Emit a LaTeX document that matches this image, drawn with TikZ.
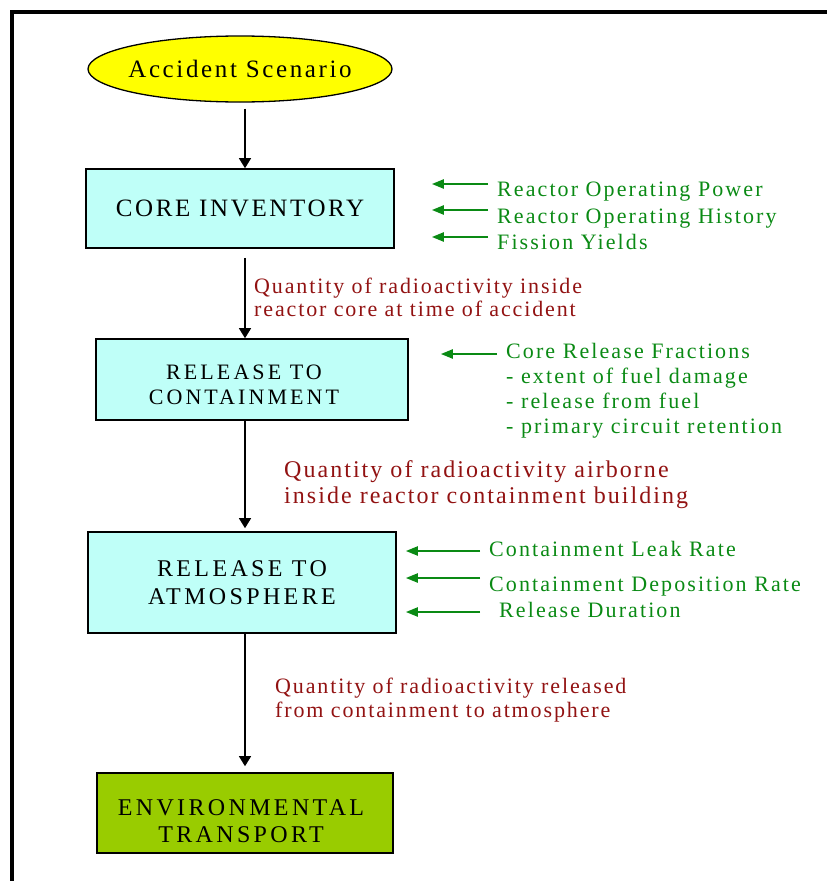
\documentclass[tikz,border=0pt]{standalone}
\usepackage{fontspec}
\setmainfont{Liberation Serif}
\newfontfamily\stagefont[LetterSpace=14]{Liberation Serif}
\newfontfamily\headfont[LetterSpace=10.5]{Liberation Serif}
\newfontfamily\qtyfont[LetterSpace=8.5]{Liberation Serif}
\newfontfamily\inputfont[LetterSpace=9.5]{Liberation Serif}
\usetikzlibrary{arrows.meta,shapes.geometric}
\definecolor{scenario}{HTML}{FFFF00}
\definecolor{stagefill}{HTML}{BFFFF8}
\definecolor{envfill}{HTML}{99CC00}
\definecolor{qtyred}{HTML}{921212}
\definecolor{inputgreen}{HTML}{0A8A14}

\begin{document}
\begin{tikzpicture}[
  x=1pt, y=-1pt,
  frame/.style={line width=3.5pt,line join=miter},
  start/.style={ellipse,draw,line width=1.3pt,fill=scenario,minimum width=304pt,minimum height=66pt,inner xsep=-8pt,inner ysep=0pt,
    font=\headfont\fontsize{25}{28}\selectfont},
  stage/.style={draw,line width=1.6pt,fill=stagefill,align=center,inner sep=0pt,
    font=\stagefont\fontsize{24}{28}\selectfont},
  qty/.style={text=qtyred,align=left,anchor=north west,inner sep=0pt,font=\qtyfont\fontsize{22}{23}\selectfont},
  input/.style={text=inputgreen,anchor=base west,inner sep=0pt,font=\inputfont\fontsize{22}{25}\selectfont},
  flow/.style={-{Triangle[width=12pt,length=10pt]},line width=1.3pt},
  feed/.style={-{Triangle[width=9pt,length=12pt]},draw=inputgreen,line width=2.2pt},
]
\useasboundingbox (0,0) rectangle (827,881);
\draw[frame] (12,895) -- (12,12) -- (840,12);

\coordinate (spine) at (245,0);
\node[start] (scenario) at (240,69) {Accident Scenario};
\node[stage,minimum width=308pt,minimum height=79pt,font=\headfont\fontsize{25}{28}\selectfont] (core) at (240,208.5) {CORE INVENTORY};
\node[stage,minimum width=312pt,minimum height=81pt,font=\stagefont\fontsize{22}{25}\selectfont] (contain) at (252,379.5) {\rule{0pt}{26pt}RELEASE TO\hspace*{16pt}\\CONTAINMENT\hspace*{16pt}};
\node[stage,minimum width=308pt,minimum height=101pt] (atmos) at (242,582.5) {RELEASE TO\\ATMOSPHERE};
\node[stage,fill=envfill,minimum width=296pt,minimum height=80pt,font=\stagefont\fontsize{24}{27}\selectfont] (transport) at (245,813) {\rule{0pt}{32pt}ENVIRONMENTAL\hspace*{8pt}\\TRANSPORT\hspace*{8pt}};

\foreach \a/\b/\s/\e in {scenario/core/6pt/0pt,core/contain/9pt/0pt,contain/atmos/0pt/3pt,atmos/transport/0pt/6pt}
  \draw[flow,shorten <=\s,shorten >=\e] (\a.south -| spine) -- (\b.north -| spine);

% quantities passed down the chain
\node[qty] (inside) at (254,278) {Quantity of radioactivity inside\\reactor core at time of accident};
\node[qty,font=\qtyfont\fontsize{24}{26}\selectfont] (airborne) at (284,460.5) {Quantity of radioactivity airborne\\inside reactor containment building};
\node[qty,font=\qtyfont\fontsize{22}{24}\selectfont] (released) at (275,678) {Quantity of radioactivity released\\from containment to atmosphere};

% model inputs
\foreach \y/\id/\txt in {196/power/Reactor Operating Power,223/history/Reactor Operating History,249/yields/Fission Yields}
  \node[input] (\id) at (497,\y) {\txt};
\foreach \id/\dy in {power/12,history/13,yields/12}
  \draw[feed] ([xshift=-9pt,yshift=\dy pt]\id.base west) -- ([xshift=37pt,yshift=\dy pt]\id.base west -| core.east);

\node[input,anchor=north west,align=left] (fractions) at (506,343) {Core Release Fractions\\- extent of fuel damage\\- release from fuel\\- primary circuit retention};
\draw[feed] ([xshift=-9pt,yshift=-11pt]fractions.north west) -- ([xshift=32pt,yshift=-11pt]fractions.north west -| contain.east);

\foreach \y/\x/\id/\txt in {556/489/leak/Containment Leak Rate,591/489/deposition/Containment Deposition Rate,617/499/duration/Release Duration}
  \node[input] (\id) at (\x,\y) {\txt};
\foreach \id/\dx/\dy in {leak/9/5,deposition/9/13,duration/19/5}
  \draw[feed] ([xshift=-\dx pt,yshift=\dy pt]\id.base west) -- ([xshift=9pt,yshift=\dy pt]\id.base west -| atmos.east);
\end{tikzpicture}
\end{document}
